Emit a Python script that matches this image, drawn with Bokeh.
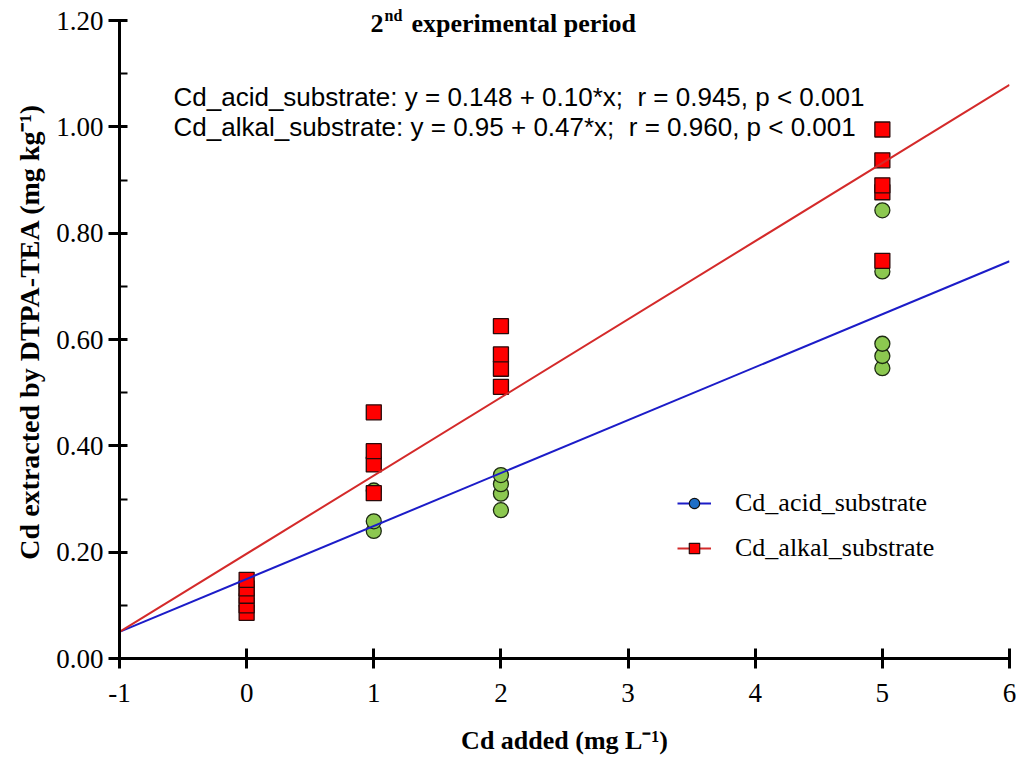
from bokeh.plotting import figure
from bokeh.models import (Label, Legend, LegendItem, FixedTicker,
                          NumeralTickFormatter, ColumnDataSource, Range1d)
from bokeh.embed import file_html
from bokeh.resources import INLINE

# ---------------- data ----------------
acid_x = [0, 0, 0, 1, 1, 1, 2, 2, 2, 2, 5, 5, 5, 5, 5]
acid_y = [0.100, 0.118, 0.135, 0.240, 0.258, 0.316, 0.279, 0.310, 0.328, 0.345,
          0.546, 0.569, 0.592, 0.728, 0.843]
alkal_x = [0, 0, 0, 0, 0, 1, 1, 1, 1, 2, 2, 2, 2, 5, 5, 5, 5, 5]
alkal_y = [0.086, 0.100, 0.118, 0.132, 0.148, 0.311, 0.365, 0.390, 0.463,
           0.511, 0.545, 0.572, 0.625, 0.748, 0.877, 0.890, 0.937, 0.995]
acid_fit = {"intercept": 0.1496, "slope": 0.0996}
alkal_fit = {"intercept": 0.197, "slope": 0.147}
x_ticks = [-1, 0, 1, 2, 3, 4, 5, 6]
y_ticks = [0.0, 0.2, 0.4, 0.6, 0.8, 1.0, 1.2]
y_minor = [0.1, 0.3, 0.5, 0.7, 0.9, 1.1]
eq_acid = "Cd_acid_substrate: y = 0.148 + 0.10*x;\u00a0 r = 0.945, p < 0.001"
eq_alkal = "Cd_alkal_substrate: y = 0.95 + 0.47*x;\u00a0 r = 0.960, p < 0.001"
x_title = "Cd added (mg L\u207b\u00b9)"
y_title = "Cd extracted by DTPA-TEA (mg kg\u207b\u00b9)"

X0, X1 = -1, 6
Y0, Y_TOP_TICK = 0.0, 1.2

W, H = 1016, 758
FL, FR, FB = 119, 1009, 658
Y_TOP_PX = 20            # page y of the 1.20 tick
FT = 4                   # frame top (extra room for the title)
Y1 = Y_TOP_TICK + (Y_TOP_PX - FT) / (FB - Y_TOP_PX) * (Y_TOP_TICK - Y0)
ML, MR, MT, MB = FL, W - FR, FT, H - FB


def px(pagex):
    return X0 + (pagex - FL) / (FR - FL) * (X1 - X0)


def py(pagey):
    return Y0 + (FB - pagey) / (FB - FT) * (Y1 - Y0)


p = figure(width=W, height=H, output_backend="svg", toolbar_location=None,
           x_range=Range1d(X0, X1), y_range=Range1d(Y0, Y1),
           min_border_left=ML, min_border_right=MR, min_border_top=MT,
           min_border_bottom=MB)
p.outline_line_color = None
p.xgrid.visible = False
p.ygrid.visible = False
p.background_fill_color = "white"
p.border_fill_color = "white"

serif = "Liberation Serif"
sans = "Liberation Sans"

for ax in (p.xaxis[0], p.yaxis[0]):
    ax.axis_line_width = 3
    ax.major_tick_line_width = 3
    ax.minor_tick_line_width = 2
    ax.major_label_text_font = serif
    ax.major_label_text_font_size = "27px"
    ax.major_label_text_color = "black"
    ax.axis_line_color = "black"
    ax.major_tick_line_color = "black"
    ax.minor_tick_line_color = "black"
    ax.axis_label_text_font = serif
    ax.axis_label_text_font_style = "bold"
    ax.axis_label_text_color = "black"

p.yaxis[0].bounds = (Y0, Y_TOP_TICK)
p.yaxis[0].ticker = FixedTicker(ticks=y_ticks, minor_ticks=y_minor)
p.yaxis[0].formatter = NumeralTickFormatter(format="0.00")
p.yaxis[0].major_tick_out = 11
p.yaxis[0].major_tick_in = 8
p.yaxis[0].minor_tick_in = 8
p.yaxis[0].minor_tick_out = 0
p.yaxis[0].major_label_standoff = 5
p.yaxis[0].axis_label = y_title
p.yaxis[0].axis_label_text_font_size = "28px"
p.yaxis[0].axis_label_standoff = 8

p.xaxis[0].ticker = FixedTicker(ticks=x_ticks, minor_ticks=[])
p.xaxis[0].major_label_overrides = {-1: "-1"}
p.xaxis[0].major_tick_out = 10
p.xaxis[0].major_tick_in = 10
p.xaxis[0].major_label_standoff = 15
p.xaxis[0].axis_label = x_title
p.xaxis[0].axis_label_text_font_size = "26px"
p.xaxis[0].axis_label_standoff = 21

# points
acid_src = ColumnDataSource(dict(x=acid_x, y=acid_y))
alkal_src = ColumnDataSource(dict(x=alkal_x, y=alkal_y))
p.scatter("x", "y", source=acid_src, marker="circle", size=15,
          fill_color="#8cc850", line_color="#1d2a12", line_width=1.3)
p.scatter("x", "y", source=alkal_src, marker="square", size=15,
          fill_color="#ff0000", line_color="#2a0a0a", line_width=1.3)

# fit lines
lx = [X0, X1]
acid_line = p.line(lx, [acid_fit["intercept"] + acid_fit["slope"] * v for v in lx],
                   line_color="#1c1cc8", line_width=2)
alkal_line = p.line(lx, [alkal_fit["intercept"] + alkal_fit["slope"] * v for v in lx],
                    line_color="#d42a2a", line_width=2)

# legend-only marker renderers (not visible in plot)
nan = float("nan")
acid_leg = p.scatter([nan], [nan], marker="circle", size=14, fill_color="#1f6fc8",
                     line_color="#111111", line_width=1.2)
alkal_leg = p.scatter([nan], [nan], marker="square", size=14, fill_color="#ff0000",
                      line_color="#2a0a0a", line_width=1.2)

legend = Legend(items=[
    LegendItem(label="Cd_acid_substrate", renderers=[acid_line, acid_leg]),
    LegendItem(label="Cd_alkal_substrate", renderers=[alkal_line, alkal_leg]),
], location=(677 - FL, FB - 563))
legend.label_text_font = serif
legend.label_text_font_size = "26px"
legend.label_text_color = "black"
legend.glyph_width = 34
legend.glyph_height = 26
legend.label_height = 26
legend.label_standoff = 24
legend.spacing = 15
legend.padding = 0
legend.margin = 0
legend.border_line_color = None
legend.background_fill_alpha = 0
p.add_layout(legend)

# title pieces
lbl = dict(text_font=serif, text_font_style="bold", text_color="black",
           text_baseline="alphabetic", text_align="left")
p.add_layout(Label(x=px(370), y=py(23), text="2", text_font_size="26px", **lbl))
p.add_layout(Label(x=px(384), y=py(15), text="nd", text_font_size="16px", **lbl))
p.add_layout(Label(x=px(411), y=py(23), text="experimental period",
                   text_font_size="26px", **lbl))

# equations
p.add_layout(Label(x=px(173), y=py(96), text=eq_acid, text_font=sans,
                   text_color="black", text_font_size="26px",
                   text_baseline="alphabetic"))
p.add_layout(Label(x=px(173), y=py(126), text=eq_alkal, text_font=sans,
                   text_color="black", text_font_size="26px",
                   text_baseline="alphabetic"))

open("out.html", "w").write(file_html(p, INLINE))
